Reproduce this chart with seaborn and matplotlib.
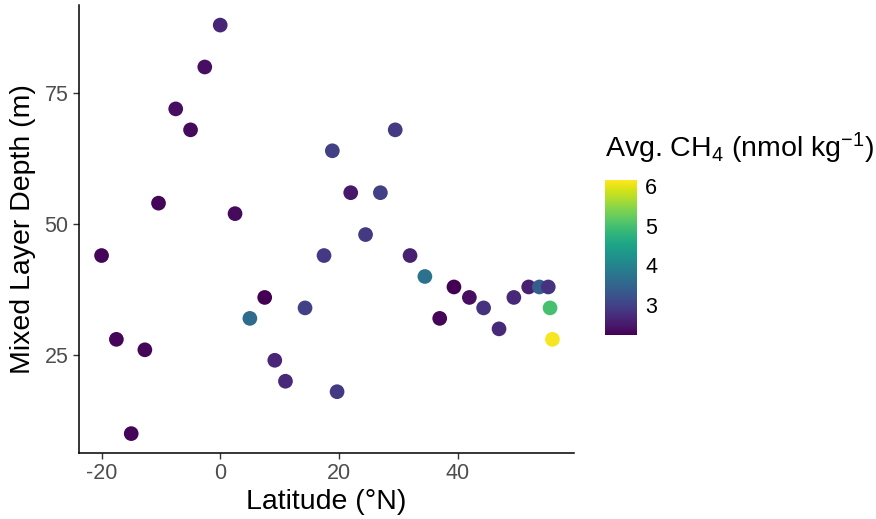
import matplotlib
matplotlib.use("Agg")
import matplotlib.pyplot as plt
import seaborn as sns
import pandas as pd
from matplotlib.colors import Normalize
from matplotlib.cm import ScalarMappable

# stations: latitude, mixed layer depth, average CH4
latitude = [0.0, -2.6, -7.5, -5.0, -10.4, 2.5, 18.9, -20.0, -17.5, -12.7,
            -15.0, 7.5, 5.0, 14.3, 9.2, 11.0, 17.5, 29.5, 22.0, 27.0,
            24.5, 32.0, 34.5, 39.4, 42.0, 44.4, 37.0, 47.0, 49.5, 52.0,
            53.8, 55.3, 55.6, 56.0, 19.7]
mld = [88, 80, 72, 68, 54, 52, 64, 44, 28, 26,
       10, 36, 32, 34, 24, 20, 44, 68, 56, 56,
       48, 44, 40, 38, 36, 34, 32, 30, 36, 38,
       38, 38, 34, 28, 18]
ch4 = [2.65, 2.4, 2.4, 2.35, 2.3, 2.35, 3.0, 2.3, 2.3, 2.3,
       2.3, 2.25, 3.6, 3.0, 2.65, 2.7, 2.9, 2.9, 2.5, 3.0,
       2.9, 2.6, 3.7, 2.25, 2.4, 2.8, 2.3, 2.7, 2.7, 2.6,
       3.4, 2.8, 5.0, 6.1, 2.9]

df = pd.DataFrame({"lat": latitude, "mld": mld, "ch4": ch4})

sns.set_theme(style="ticks")
plt.rcParams["font.family"] = ["Liberation Sans", "DejaVu Sans"]
plt.rcParams["text.color"] = "black"
plt.rcParams["axes.unicode_minus"] = False
plt.rcParams["mathtext.fontset"] = "custom"
plt.rcParams["mathtext.rm"] = "Liberation Sans"
plt.rcParams["mathtext.it"] = "Liberation Sans:italic"

vmin, vmax = 2.25, 6.15
norm = Normalize(vmin=vmin, vmax=vmax)

fig = plt.figure(figsize=(8.76, 5.19), dpi=100)
ax = fig.add_axes([0.0902, 0.1272, 0.5648, 0.8628])

sns.scatterplot(data=df, x="lat", y="mld", hue="ch4", palette="viridis",
                hue_norm=norm, s=112, linewidth=0, legend=False, ax=ax)

ax.set_xlim(-23.8, 59.6)
ax.set_ylim(6.3, 91.8)
ax.set_xticks([-20, 0, 20, 40])
ax.set_yticks([25, 50, 75])
ax.set_xlabel("Latitude (°N)", fontsize=20.5, color="black", labelpad=3)
ax.set_ylabel("Mixed Layer Depth (m)", fontsize=20.5, color="black", labelpad=6)
ax.tick_params(axis="both", labelsize=15.5, labelcolor="#4d4d4d",
               color="#333333", length=4, width=1)
for side in ["left", "bottom"]:
    ax.spines[side].set_linewidth(1.1)
    ax.spines[side].set_color("black")
sns.despine(ax=ax)

cax = fig.add_axes([0.6906, 0.3545, 0.0365, 0.2987])
sm = ScalarMappable(norm=norm, cmap="viridis")
cbar = fig.colorbar(sm, cax=cax)
cbar.outline.set_visible(False)
cbar.set_ticks([3, 4, 5, 6])
cax.yaxis.set_ticks_position("both")
cax.tick_params(direction="in", color="white", length=6, width=0.8,
                labelsize=15.5, labelcolor="black", left=True, right=True,
                labelleft=False, labelright=True, pad=6)
fig.text(0.6906, 0.697, r"Avg. CH$_4$ (nmol kg$^{-1}$)", fontsize=20.5,
         color="black", ha="left", va="baseline")

fig.savefig("out.png", dpi=100)
